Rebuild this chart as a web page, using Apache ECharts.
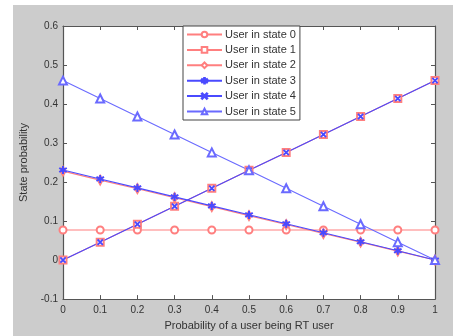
<!DOCTYPE html>
<html>
<head>
<meta charset="utf-8">
<script src="https://cdn.jsdelivr.net/npm/echarts@6/dist/echarts.min.js"></script>
<style>
  html, body { margin: 0; padding: 0; background: #fff; }
  #chart { width: 453px; height: 336px; }
</style>
</head>
<body>
<div id="chart"></div>
<script>
// x values (probability of RT user)
const xValues = [0, 0.1, 0.2, 0.3, 0.4, 0.5, 0.6, 0.7, 0.8, 0.9, 1]
const xTickLabels = ['0', '0.1', '0.2', '0.3', '0.4', '0.5', '0.6', '0.7', '0.8', '0.9', '1']
const yTickLabels = ['-0.1', '0', '0.1', '0.2', '0.3', '0.4', '0.5', '0.6']

const state0 = [0.077, 0.077, 0.077, 0.077, 0.077, 0.077, 0.077, 0.077, 0.077, 0.077, 0.077]
const state1 = [0, 0.046, 0.092, 0.138, 0.184, 0.23, 0.276, 0.322, 0.368, 0.414, 0.46]
const state2 = [0.228, 0.205, 0.183, 0.16, 0.137, 0.114, 0.091, 0.068, 0.046, 0.023, 0]
const state3 = [0.231, 0.208, 0.185, 0.162, 0.139, 0.116, 0.093, 0.07, 0.047, 0.024, 0]
const state4 = [0, 0.046, 0.092, 0.138, 0.184, 0.23, 0.276, 0.322, 0.368, 0.414, 0.46]
const state5 = [0.46, 0.414, 0.368, 0.322, 0.276, 0.23, 0.184, 0.138, 0.092, 0.046, 0]

const seriesNames = ['User in state 0', 'User in state 1', 'User in state 2',
  'User in state 3', 'User in state 4', 'User in state 5']

const red = '#ff7f7f'
const blue = '#4a4aff'
const starPath = 'path://M-0.6,-5 L0.6,-5 L0.6,-1 L4.3,-3 L4.9,-2 L1.2,0 L4.9,2 L4.3,3 L0.6,1 L0.6,5 L-0.6,5 L-0.6,1 L-4.3,3 L-4.9,2 L-1.2,0 L-4.9,-2 L-4.3,-3 L-0.6,-1 Z'
const xPath = 'path://M-5,-4 L-4,-5 L0,-1 L4,-5 L5,-4 L1,0 L5,4 L4,5 L0,1 L-4,5 L-5,4 L-1,0 Z'

function pairs(ys) {
  return xValues.map((x, i) => [x, ys[i]])
}

function lineSeries(name, ys, color, symbol, size) {
  return {
    name: name,
    type: 'line',
    data: pairs(ys),
    symbol: symbol,
    symbolSize: size,
    showAllSymbol: true,
    lineStyle: { color: color, width: 1.1 },
    itemStyle: { color: color, borderColor: color, borderWidth: 1.1 },
    emphasis: { disabled: true },
    animation: false
  }
}

const chart = echarts.init(document.getElementById('chart'))

const axisCommon = {
  axisLine: { show: true, onZero: false, lineStyle: { color: '#555', width: 1.2 } },
  axisTick: { show: true, inside: true, length: 4, lineStyle: { color: '#555' } },
  splitLine: { show: false }
}

chart.setOption({
  animation: false,
  textStyle: { fontFamily: 'Liberation Sans, Arial, sans-serif' },
  graphic: [{
    type: 'rect',
    shape: { x: 13, y: 5, width: 440, height: 331 },
    style: { fill: '#cccccc' },
    z: -10,
    silent: true
  }],
  grid: {
    left: 63, right: 18, top: 26, bottom: 32,
    show: true, backgroundColor: '#fff', borderWidth: 0
  },
  legend: {
    orient: 'vertical',
    left: 183, top: 26,
    data: seriesNames,
    itemWidth: 35, itemHeight: 7, itemGap: 4.4,
    padding: [3, 4, 3, 3],
    backgroundColor: '#fff',
    borderColor: '#444', borderWidth: 1,
    textStyle: { fontSize: 11, color: '#333', padding: [0, 0, 0, -2] }
  },
  xAxis: [{
    ...axisCommon,
    type: 'value', min: 0, max: 1, interval: 0.1,
    position: 'bottom',
    name: 'Probability of a user being RT user',
    nameLocation: 'middle', nameGap: 20,
    nameTextStyle: { fontSize: 11, color: '#333' },
    axisLabel: {
      fontSize: 10, color: '#333', margin: 6,
      formatter: v => xTickLabels[Math.round(v * 10)]
    }
  }, {
    ...axisCommon,
    type: 'value', min: 0, max: 1, interval: 0.1,
    position: 'top',
    axisLabel: { show: false }
  }],
  yAxis: [{
    ...axisCommon,
    type: 'value', min: -0.1, max: 0.6, interval: 0.1,
    position: 'left',
    name: 'State probability',
    nameLocation: 'middle', nameGap: 24,
    nameTextStyle: { fontSize: 11, color: '#333' },
    axisLabel: {
      fontSize: 10, color: '#333', margin: 5,
      formatter: v => yTickLabels[Math.round(v * 10) + 1]
    }
  }, {
    ...axisCommon,
    type: 'value', min: -0.1, max: 0.6, interval: 0.1,
    position: 'right',
    axisLabel: { show: false }
  }],
  series: [
    lineSeries(seriesNames[0], state0, red, 'emptyCircle', 7),
    lineSeries(seriesNames[1], state1, red, 'emptyRect', 7),
    lineSeries(seriesNames[2], state2, red, 'emptyDiamond', [5, 9]),
    lineSeries(seriesNames[3], state3, blue, starPath, 7),
    lineSeries(seriesNames[4], state4, blue, xPath, 5),
    lineSeries(seriesNames[5], state5, '#6a6aff', 'emptyTriangle', 8)
  ]
})
</script>
</body>
</html>
